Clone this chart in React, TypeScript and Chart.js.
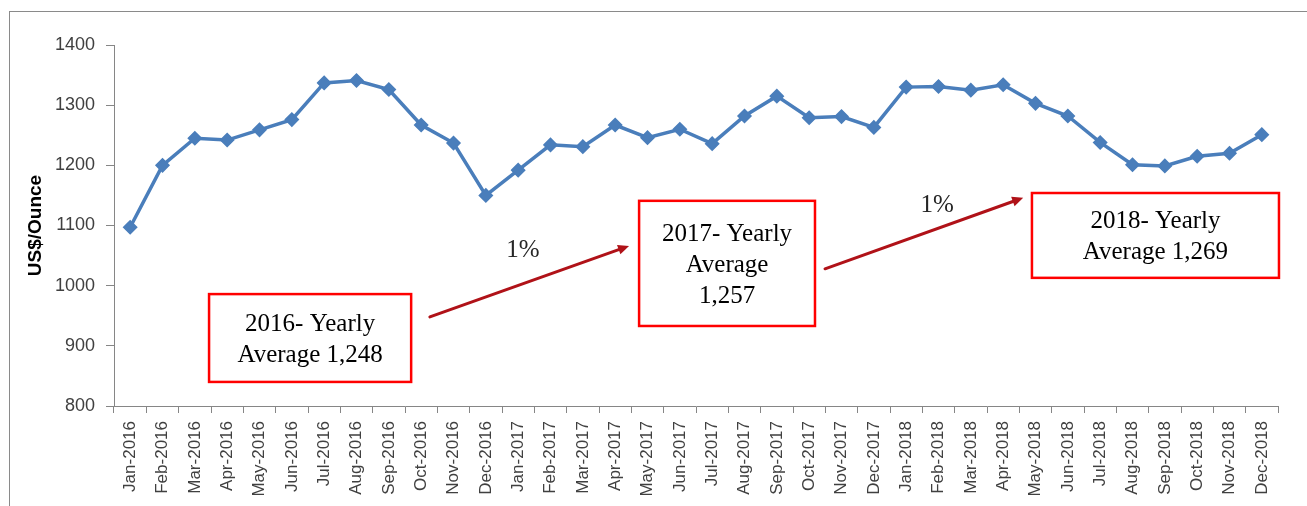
import React, { useEffect, useRef } from 'react';
import { Chart, registerables } from 'chart.js';

Chart.register(...registerables);

const categories = [
  'Jan-2016', 'Feb-2016', 'Mar-2016', 'Apr-2016', 'May-2016', 'Jun-2016',
  'Jul-2016', 'Aug-2016', 'Sep-2016', 'Oct-2016', 'Nov-2016', 'Dec-2016',
  'Jan-2017', 'Feb-2017', 'Mar-2017', 'Apr-2017', 'May-2017', 'Jun-2017',
  'Jul-2017', 'Aug-2017', 'Sep-2017', 'Oct-2017', 'Nov-2017', 'Dec-2017',
  'Jan-2018', 'Feb-2018', 'Mar-2018', 'Apr-2018', 'May-2018', 'Jun-2018',
  'Jul-2018', 'Aug-2018', 'Sep-2018', 'Oct-2018', 'Nov-2018', 'Dec-2018',
];

const goldPrice = [
  1097, 1200, 1245, 1242, 1259, 1276, 1337, 1341, 1326, 1267, 1237, 1150,
  1192, 1234, 1231, 1267, 1246, 1260, 1236, 1282, 1315, 1279, 1281, 1263,
  1330, 1331, 1325, 1334, 1303, 1282, 1238, 1201, 1199, 1215, 1220, 1251,
];

const yMin = 800;
const yMax = 1400;
const yStep = 100;
const yTitle = 'US$/Ounce';

// Annotation boxes, in data units (category index, US$/Ounce)
const noteTexts = [
  ['2016- Yearly', 'Average 1,248'],
  ['2017- Yearly', 'Average', '1,257'],
  ['2018- Yearly', 'Average 1,269'],
];
const noteX = [[2.44, 8.69], [15.74, 21.18], [27.89, 35.53]];
const noteY = [[986, 840], [1141, 933], [1154, 1013]];

// Growth arrows
const arrowFrom = [[9.27, 948], [21.49, 1028]];
const arrowTo = [[15.43, 1066], [27.62, 1146]];
const growthLabels = ['1%', '1%'];
const growthAt = [[12.15, 1058], [24.96, 1134]];

const notesPlugin = {
  id: 'notes',
  afterDatasetsDraw(chart: any) {
    const { ctx } = chart;
    const xs = chart.scales.x;
    const ys = chart.scales.y;
    ctx.save();
    // arrows
    arrowFrom.forEach((f, i) => {
      const t = arrowTo[i];
      const x1 = xs.getPixelForValue(f[0]);
      const y1 = ys.getPixelForValue(f[1]);
      const x2 = xs.getPixelForValue(t[0]);
      const y2 = ys.getPixelForValue(t[1]);
      const ang = Math.atan2(y2 - y1, x2 - x1);
      const head = 11;
      const hw = 5;
      const bx = x2 - Math.cos(ang) * head;
      const by = y2 - Math.sin(ang) * head;
      ctx.strokeStyle = '#b01218';
      ctx.fillStyle = '#b01218';
      ctx.lineWidth = 3;
      ctx.lineCap = 'round';
      ctx.beginPath();
      ctx.moveTo(x1, y1);
      ctx.lineTo(bx, by);
      ctx.stroke();
      ctx.beginPath();
      ctx.moveTo(x2, y2);
      ctx.lineTo(bx + Math.sin(ang) * hw, by - Math.cos(ang) * hw);
      ctx.lineTo(bx - Math.sin(ang) * hw, by + Math.cos(ang) * hw);
      ctx.closePath();
      ctx.fill();
    });
    // growth labels
    ctx.fillStyle = '#262626';
    ctx.font = '25px "Liberation Serif"';
    ctx.textAlign = 'center';
    ctx.textBaseline = 'middle';
    growthLabels.forEach((t, i) => {
      ctx.fillText(t, xs.getPixelForValue(growthAt[i][0]), ys.getPixelForValue(growthAt[i][1]));
    });
    // boxes
    noteTexts.forEach((lines, i) => {
      const L = xs.getPixelForValue(noteX[i][0]);
      const R = xs.getPixelForValue(noteX[i][1]);
      const T = ys.getPixelForValue(noteY[i][0]);
      const B = ys.getPixelForValue(noteY[i][1]);
      ctx.fillStyle = '#ffffff';
      ctx.fillRect(L, T, R - L, B - T);
      ctx.strokeStyle = '#ff0000';
      ctx.lineWidth = 2.5;
      ctx.strokeRect(L, T, R - L, B - T);
      ctx.fillStyle = '#000000';
      ctx.font = '25px "Liberation Serif"';
      ctx.textAlign = 'center';
      ctx.textBaseline = 'middle';
      const cx = (L + R) / 2;
      const cy = (T + B) / 2 + 2;
      const lh = 31;
      lines.forEach((t, k) => {
        ctx.fillText(t, cx, cy + (k - (lines.length - 1) / 2) * lh);
      });
    });
    ctx.restore();
  },
};

export default function App() {
  const ref = useRef<HTMLCanvasElement | null>(null);

  useEffect(() => {
    if (!ref.current) return;
    const chart = new Chart(ref.current, {
      type: 'line',
      data: {
        labels: categories,
        datasets: [
          {
            data: goldPrice,
            borderColor: '#4a7ebb',
            backgroundColor: '#4a7ebb',
            borderWidth: 3.5,
            tension: 0,
            pointStyle: 'rectRot',
            pointRadius: 6.5,
            pointBorderWidth: 1.5,
            pointBackgroundColor: '#4a7ebb',
            pointBorderColor: '#4a7ebb',
          },
        ],
      },
      options: {
        responsive: false,
        animation: false,
        layout: { padding: { left: 20, top: 45, right: 29, bottom: 0 } },
        plugins: {
          legend: { display: false },
          tooltip: { enabled: false },
        },
        scales: {
          x: {
            offset: true,
            grid: {
              offset: true,
              drawOnChartArea: false,
              drawTicks: true,
              tickLength: 7,
              color: '#868686',
            },
            border: { display: true, color: '#868686', width: 1 },
            ticks: {
              autoSkip: false,
              minRotation: 90,
              maxRotation: 90,
              padding: 8,
              color: '#404040',
              font: { family: '"Liberation Sans"', size: 17 },
            },
            afterFit(scale: any) {
              scale.height = 100;
            },
          },
          y: {
            min: yMin,
            max: yMax,
            grid: {
              drawOnChartArea: false,
              drawTicks: true,
              tickLength: 8,
              color: '#868686',
            },
            border: { display: true, color: '#868686', width: 1 },
            ticks: {
              stepSize: yStep,
              padding: 11,
              color: '#404040',
              font: { family: '"Liberation Sans"', size: 18 },
              callback: (v: any) => String(v),
            },
            title: {
              display: true,
              text: yTitle,
              color: '#000000',
              font: { family: '"Liberation Sans"', size: 19, weight: 'bold' },
            },
            afterFit(scale: any) {
              scale.width = 94;
            },
          },
        },
      },
      plugins: [notesPlugin],
    } as any);
    return () => chart.destroy();
  }, []);

  return (
    <div style={{ position: 'fixed', left: 0, top: 0, width: 1307, height: 506, background: '#ffffff', overflow: 'hidden' }}>
      <div
        style={{
          position: 'absolute',
          left: 9,
          top: 11,
          width: 1320,
          height: 520,
          border: '1.5px solid #8a8a8a',
          boxSizing: 'border-box',
        }}
      />
      <canvas ref={ref} width={1307} height={506} style={{ position: 'absolute', left: 0, top: 0 }} />
    </div>
  );
}
